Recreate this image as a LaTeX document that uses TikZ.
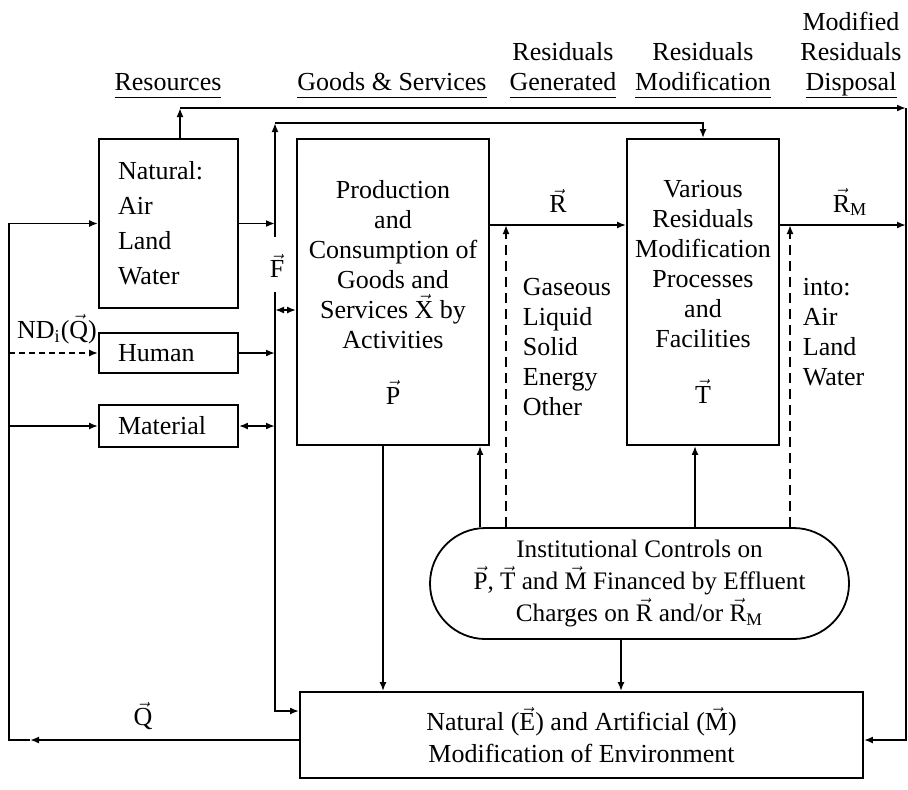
\documentclass[tikz,border=0pt]{standalone}
\usepackage{fontspec}
\setmainfont{Liberation Serif}
\usetikzlibrary{arrows.meta,shapes.misc}

\newcommand{\vt}[1]{$\vec{\mathrm{#1}}$}
\newcommand{\ul}[1]{\underline{\raisebox{0pt}[\height][0pt]{#1}\rule[-2pt]{0pt}{0pt}}}

\tikzset{
  box/.style={draw, inner sep=0pt},
  hdr/.style={anchor=south, align=center, inner sep=0pt},
  lbl/.style={anchor=north west, align=left, inner sep=0pt},
  dsh/.style={dash pattern=on 5pt off 3pt},
}

\begin{document}
\begin{tikzpicture}[x=0.5pt, y=-0.5pt, line width=0.9pt,
  >={Latex[length=4.5pt,width=3.5pt]}, font=\fontsize{13}{15}\selectfont]
  \useasboundingbox (0,0) rectangle (908,789);

  % headings
  \node[hdr] (hres) at (168,99) {\ul{Resources}};
  \node[hdr] (hgds) at (392,99) {\ul{Goods \& Services}};
  \node[hdr] (hgen) at (563,99) {Residuals\\\ul{Generated}};
  \node[hdr] (hmod) at (703,99) {Residuals\\\ul{Modification}};
  \node[hdr] (hdis) at (851,99) {Modified\\Residuals\\\ul{Disposal}};

  % resources
  \node[box, text width=50.5pt, inner xsep=9.5pt, minimum height=84.5pt, align=left,
    font=\fontsize{13}{17.5}\selectfont] (nat) at (168.5,223.5) {Natural:\\Air\\Land\\Water};
  \node[box, text width=50.5pt, inner xsep=9.5pt, minimum height=20pt, align=left] (hum) at (168.5,353) {Human};
  \node[box, text width=50.5pt, inner xsep=9.5pt, minimum height=21pt, align=left] (mat) at (168.5,426) {Material};

  % processes
  \node[box, minimum width=96pt, minimum height=153pt, align=center] (prod) at (393,292)
    {Production\\and\\Consumption of\\Goods and\\Services \vt{X} by\\Activities\\[13pt]\vt{P}};
  \node[box, minimum width=76pt, minimum height=153pt, align=center] (var) at (703,292)
    {Various\\Residuals\\Modification\\Processes\\and\\Facilities\\[13pt]\vt{T}};
  \node[lbl] (kinds) at (522,277) {Gaseous\\Liquid\\Solid\\Energy\\Other};
  \node[lbl] (into) at (802,277) {into:\\Air\\Land\\Water};

  \node[draw, rounded rectangle, minimum width=209.5pt, minimum height=55.5pt, align=center, inner sep=0pt,
    font=\fontsize{12.6}{16}\selectfont] (inst) at (639.5,583.5)
    {Institutional Controls on\\\vt{P}, \vt{T} and \vt{M} Financed by Effluent\\Charges on \vt{R} and/or \vt{R}$_{\mathrm{M}}$};
  \node[box, minimum width=281.5pt, minimum height=43pt, align=center,
    font=\fontsize{13}{16}\selectfont] (env) at (581.5,735)
    {Natural (\vt{E}) and Artificial (\vt{M})\\Modification of Environment};

  % flow labels
  \node (rlab) at (558,201) {\vt{R}};
  \node (rmlab) at (850,202) {\vt{R}$_{\mathrm{M}}$};
  \node (flab) at (277,266) {\vt{F}};
  \node (qlab) at (143,716) {\vt{Q}};
  \node (ndlab) at (57,329) {ND$_{\mathrm{i}}$(\vt{Q})};

  % left loop
  \coordinate (qa) at (30,740);
  \coordinate (ql) at (9,740);
  \draw[->] (env.west |- ql) -- (qa);
  \draw[->] (qa) -- (ql) |- (nat.west);
  \draw[->] (ql |- mat.west) -- (mat.west);
  \draw[->, dash pattern=on 3pt off 2pt] (ql |- hum.west) -- (hum.west);

  % F line
  \coordinate (ftop) at (275,123);
  \coordinate (fa) at (275,237);
  \coordinate (fb) at (275,292);
  \coordinate (fbot) at (275,711);
  \coordinate (fp) at (275,310);
  \draw[->] (fa) -- (ftop);
  \draw[->] (ftop) -| (var.north);
  \draw[->] (fb) -- (fbot) -- (env.west |- fbot);
  \draw[->] (nat.east) -- (nat.east -| ftop);
  \draw[->] (hum.east) -- (hum.east -| ftop);
  \draw[<->] (mat.east) -- (mat.east -| ftop);
  \draw[<->] (fp) -- (prod.west |- fp);

  % outer loop
  \coordinate (otl) at (180,108);
  \coordinate (otr) at (906,108);
  \coordinate (obr) at (906,740);
  \draw[->] (otl |- nat.north) -- (otl);
  \draw[->] (otl) -- (otr);
  \draw[->] (otr) -- (obr) -- (env.east |- obr);

  % residuals
  \coordinate (flow) at (0,225);
  \draw[->] (prod.east |- flow) -- (var.west |- flow);
  \draw[->] (var.east |- flow) -- (otr |- flow);

  % controls
  \draw[->] ([xshift=-5pt]prod.south) -- ([xshift=-5pt]prod.south |- env.north);
  \draw[->] (inst.north -| 480,0) -- (prod.south -| 480,0);
  \draw[->, dsh] (inst.north -| 506,0) -- (flow -| 506,0);
  \draw[->] (inst.north -| 695,0) -- (var.south -| 695,0);
  \draw[->, dsh] (inst.north -| 790,0) -- (flow -| 790,0);
  \draw[->] (inst.south -| 621,0) -- (env.north -| 621,0);
\end{tikzpicture}
\end{document}
